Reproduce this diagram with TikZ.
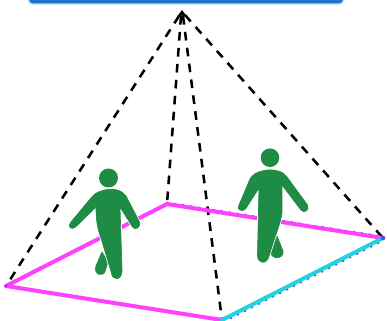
\documentclass[tikz,border=0pt]{standalone}
\usetikzlibrary{arrows.meta,calc}
\definecolor{barblue}{HTML}{1E74CC}
\definecolor{barrim}{HTML}{BBDDF5}
\definecolor{figgreen}{HTML}{1E8C45}
\definecolor{edgemag}{HTML}{FF40FF}
\definecolor{edgecyan}{HTML}{22D3DC}
\definecolor{dotblue}{HTML}{4848F0}
\tikzset{
  ray/.style={draw=black,line width=1.9pt,dash pattern=on 6.5pt off 5.5pt},
  tipmark/.style={fill=black,draw=none},
  sideM/.style={draw=edgemag,line width=3pt,line cap=round},
  sideC/.style={draw=edgecyan,line width=3pt,line cap=round},
  dotline/.style={draw=dotblue,line width=1.2pt,dash pattern=on 0.9pt off 5pt,line cap=round},
  figure body/.style={fill=figgreen,draw=figgreen,line width=0.5pt,line join=round,
    preaction={draw=white,line width=1.7pt}},
}
\begin{document}
\begin{tikzpicture}[x=0.75pt,y=-0.75pt]
\useasboundingbox (0,0) rectangle (387,321);
% top bar
\begin{scope}
\clip (0,0) rectangle (387,321);
\fill[barrim,rounded corners=3pt] (28,-10) rectangle (344,4.6);
\fill[barblue,rounded corners=3pt] (29,-10) rectangle (343,3.4);
\end{scope}
% corners
\coordinate (apex) at (182,10);
\coordinate (L) at (6,286);
\coordinate (B) at (167,204);
\coordinate (R) at (383,238);
\coordinate (F) at (222,320);
% rays
\draw[ray] ($(apex)+(-3,6)$) -- (L);
\draw[ray] ($(apex)+(-1,6)$) -- (B);
\draw[ray] ($(apex)+(1,6)$) -- (F);
\draw[ray] ($(apex)+(3,5)$) -- (R);
\fill[tipmark] (apex) -- ++(5.5,7.5) -- ++(-5.5,-2) -- ++(-5.5,2) -- cycle;
% floor edges
\draw[dotline] ($(B)+(0,-1.6)$) -- ($(R)+(0,-1.6)$);
\draw[sideM] (L) -- (B);
\draw[sideM] (B) -- (R);
\draw[sideM] (L) -- (F);
\draw[dotline] ($(F)+(1.5,2)$) -- ($(R)+(1.5,2)$);
\draw[sideC] (F) -- (R);
\fill[dotblue] (R) circle (1.7pt);
\fill[dotblue] (L) circle (1pt);
% left figure
\fill[figgreen] (108.5,178) circle (9.5);
\path[figure body] (102,252) -- (96,266) .. controls (93,275) and (104,278) .. (105.5,270) -- (108,262) -- cycle;
\path[figure body] (103,190.5) .. controls (107,189) and (113,189) .. (117,190)
  .. controls (121,191) and (124,193) .. (126,196) -- (139.5,222)
  .. controls (141.5,227) and (135,231) .. (132.5,227) -- (120,207)
  -- (122,270) .. controls (122.5,281) and (112,281) .. (111.5,273)
  -- (101,238) .. controls (97,228) and (96,218) .. (96,207)
  -- (75.5,227) .. controls (71,231) and (67,226) .. (71,222)
  -- (91,198) .. controls (94,194) and (98,191.5) .. (103,190.5) -- cycle;
% right figure
\fill[figgreen] (270,157.7) circle (9.3);
\path[figure body] (277,236) -- (271.5,250) .. controls (268,260) and (285,260) .. (283,251) -- cycle;
\path[figure body] (262,171) .. controls (267,169.5) and (273,169.5) .. (278,171)
  .. controls (282,172) and (285,174) .. (287,177) -- (307.5,205)
  .. controls (310,210) and (304,214) .. (301,210) -- (282,185)
  -- (282,213) .. controls (281,222) and (275,236) .. (269,256)
  .. controls (267,265) and (257,264) .. (257.5,255)
  -- (259,188) -- (245.5,209) .. controls (242,213) and (236,209) .. (239,205)
  -- (250,179) .. controls (252,175) and (257,172) .. (262,171) -- cycle;
\end{tikzpicture}
\end{document}
